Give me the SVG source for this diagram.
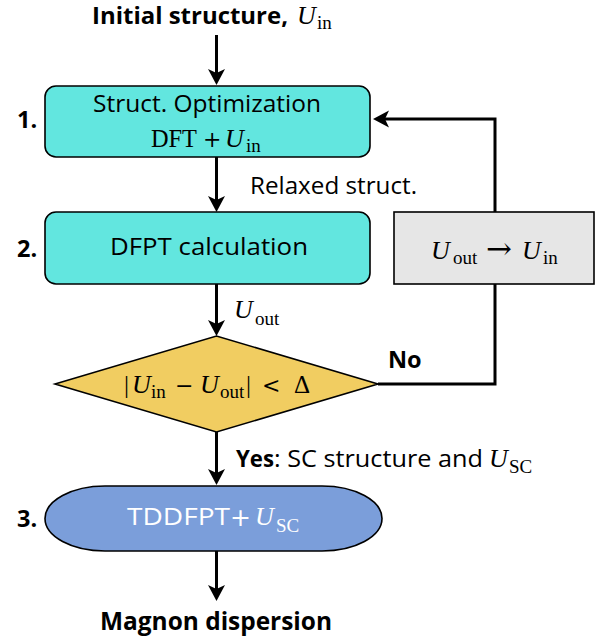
<svg xmlns="http://www.w3.org/2000/svg" width="602" height="640" viewBox="0 0 602 640">
<style>
.sans{font-family:"Open Sans","Liberation Sans",sans-serif;font-size:23px;fill:#000}
.bold{font-family:"Open Sans","Liberation Sans",sans-serif;font-size:23.5px;font-weight:bold;fill:#000}
.mi{font-family:"Liberation Serif","Times New Roman",serif;font-style:italic;font-size:26px;fill:#000}
.rm{font-family:"Liberation Serif","Times New Roman",serif;font-size:25px;fill:#000}
.sym{font-family:"DejaVu Serif","Liberation Serif",serif;font-size:22px;fill:#000}
.sub{font-family:"Liberation Serif","Times New Roman",serif;font-size:19px;fill:#000}
.conn{fill:none;stroke:#000;stroke-width:3;marker-end:url(#ah)}
.box{stroke:#000;stroke-width:1.6}
.white{fill:#fff}
</style>
<defs>
<marker id="ah" markerUnits="userSpaceOnUse" viewBox="-9 -10 20 20" refX="0" refY="0" markerWidth="20" markerHeight="20" orient="auto">
<path d="M9,0 L-7,-8.5 L-3,0 L-7,8.5 Z" fill="#000"/>
</marker>
</defs>

<g id="connectors">
<path class="conn" d="M216.5,35 V76"/>
<path class="conn" d="M216.5,157 V203"/>
<path class="conn" d="M216.5,284 V327"/>
<path class="conn" d="M216.5,432 V476"/>
<path class="conn" d="M216.5,551 V592"/>
<path class="conn" d="M378,384 H495 V119 H382"/>
</g>

<g id="start">
<text class="bold" x="92" y="24" textLength="196" lengthAdjust="spacingAndGlyphs">Initial structure,</text>
<text class="mi" x="297" y="24">U</text>
<text class="sub" x="317" y="29">in</text>
</g>

<g id="step1">
<rect class="box" x="45" y="86" width="325" height="71" rx="11" fill="#62E6DF"/>
<text class="sans" x="93" y="112" textLength="228" lengthAdjust="spacingAndGlyphs">Struct. Optimization</text>
<text class="rm" x="151" y="147" textLength="46" lengthAdjust="spacingAndGlyphs">DFT</text>
<text class="sym" x="203" y="147">+</text>
<text class="mi" x="225" y="147">U</text>
<text class="sub" x="246" y="152">in</text>
<text class="bold" x="17" y="128">1.</text>
</g>

<g id="relaxed-label">
<text class="sans" x="250" y="194" textLength="167" lengthAdjust="spacingAndGlyphs">Relaxed struct.</text>
</g>

<g id="step2">
<rect class="box" x="45" y="212" width="325" height="72" rx="11" fill="#62E6DF"/>
<text class="sans" x="110" y="255" textLength="198" lengthAdjust="spacingAndGlyphs">DFPT calculation</text>
<text class="bold" x="17" y="257">2.</text>
</g>

<g id="uout-label">
<text class="mi" x="234" y="318">U</text>
<text class="sub" x="255" y="325">out</text>
</g>

<g id="update">
<rect class="box" x="394" y="212" width="200" height="72" fill="#E6E6E6"/>
<text class="mi" x="431" y="259">U</text>
<text class="sub" x="453" y="264">out</text>
<text class="sym" x="486" y="259" style="font-size:30px" textLength="26" lengthAdjust="spacingAndGlyphs">→</text>
<text class="mi" x="522" y="259">U</text>
<text class="sub" x="543" y="264">in</text>
</g>

<g id="decision">
<polygon class="box" points="55,384 216.5,336 378,384 216.5,432" fill="#F1CD61"/>
<text class="rm" x="124" y="393">|</text>
<text class="mi" x="132" y="393">U</text>
<text class="sub" x="151" y="398">in</text>
<text class="sym" x="175" y="393">−</text>
<text class="mi" x="200" y="393">U</text>
<text class="sub" x="220" y="398">out</text>
<text class="rm" x="246" y="393">|</text>
<text class="sym" x="262" y="393">&lt;</text>
<text class="rm" x="294" y="393">Δ</text>
</g>

<g id="no-label">
<text class="bold" x="388" y="368">No</text>
</g>

<g id="yes-label">
<text class="bold" x="236" y="467" textLength="38" lengthAdjust="spacingAndGlyphs">Yes</text>
<text class="sans" x="274" y="467" textLength="209" lengthAdjust="spacingAndGlyphs">: SC structure and</text>
<text class="mi" x="489" y="467">U</text>
<text class="sub" x="509" y="473">SC</text>
</g>

<g id="step3">
<rect class="box" x="45" y="486" width="337" height="65" rx="60" ry="32.5" fill="#7B9EDA"/>
<text class="sans white" x="127" y="525" textLength="103" lengthAdjust="spacingAndGlyphs">TDDFPT</text>
<text x="230" y="526" style="font-family:'DejaVu Sans',sans-serif;font-size:25px;fill:#fff">+</text>
<text class="mi white" x="255" y="525">U</text>
<text class="sub white" x="276" y="532">SC</text>
<text class="bold" x="17" y="527">3.</text>
</g>

<g id="end">
<text class="bold" x="100" y="630" style="font-size:24.5px" textLength="232" lengthAdjust="spacingAndGlyphs">Magnon dispersion</text>
</g>
</svg>
